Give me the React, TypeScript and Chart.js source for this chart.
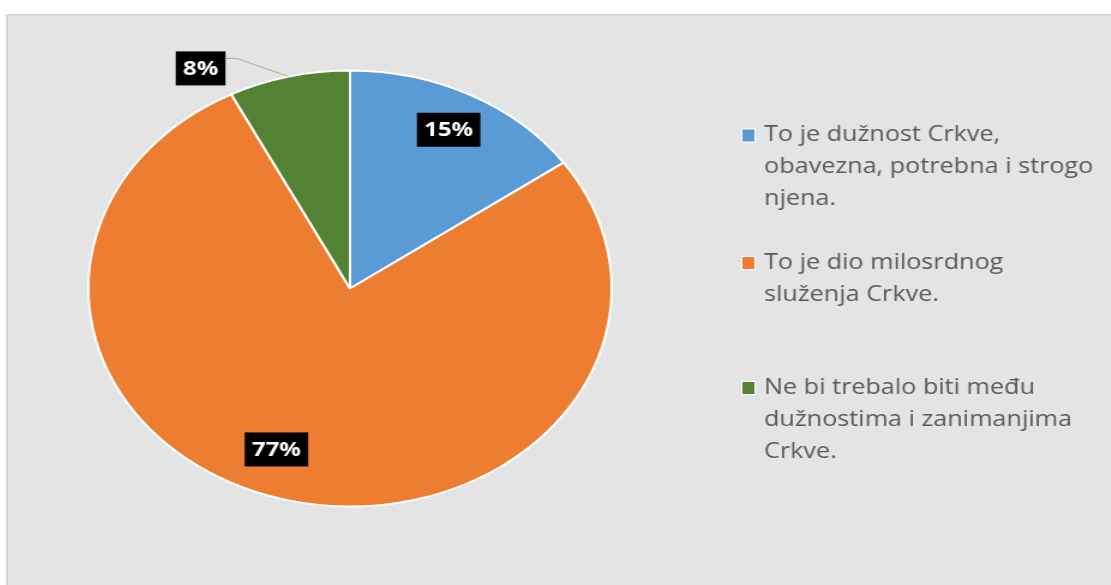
import React, { useEffect, useRef } from "react";
import { Chart, registerables } from "chart.js";

Chart.register(...registerables);

// ---- data ----
const categories: string[][] = [
  ["To je dužnost Crkve,", "obavezna, potrebna i strogo", "njena."],
  ["To je dio milosrdnog", "služenja Crkve."],
  ["Ne bi trebalo biti među", "dužnostima i zanimanjima", "Crkve."],
];
const shares = [15.2, 77.3, 7.5];
const sliceColors = ["#5b9bd5", "#ed7d31", "#548235"];

// ---- layout (not data) ----
const STRETCH = 1.2;
const CW = 919;
const CH = 569;
const labelRadius = [0.82, 0.79, 1.16];
const labelAngleOffset = [0, 7, -16];
const legendFirstLineY = [119.5, 247, 372];
const legendLineH = 32;

const labelPlugin = {
  id: "pctLabels",
  afterDatasetsDraw(chart: any) {
    const ctx = chart.ctx;
    const meta = chart.getDatasetMeta(0);
    const total = shares.reduce((a, b) => a + b, 0);
    ctx.save();
    ctx.font = 'bold 20px "Open Sans"';
    meta.data.forEach((arc: any, i: number) => {
      const p = arc.getProps(["x", "y", "startAngle", "endAngle", "outerRadius"], true);
      const baseMid = (p.startAngle + p.endAngle) / 2;
      const mid = baseMid + (labelAngleOffset[i] * Math.PI) / 180;
      const r = p.outerRadius * labelRadius[i];
      const cx = p.x + Math.cos(mid) * r;
      const cy = p.y + Math.sin(mid) * r;
      const txt = Math.round((shares[i] / total) * 100) + "%";
      const tw = ctx.measureText(txt).width;
      const bw = tw + 12;
      const bh = 34;
      if (labelRadius[i] > 1) {
        const ex = p.x + Math.cos(baseMid) * p.outerRadius;
        const ey = p.y + Math.sin(baseMid) * p.outerRadius;
        const rx = cx + bw / 2;
        const ly = cy - 10;
        ctx.strokeStyle = "#a6a6a6";
        ctx.lineWidth = 1;
        ctx.beginPath();
        ctx.moveTo(ex, ey);
        ctx.lineTo(rx + 9, ly);
        ctx.lineTo(rx, ly);
        ctx.stroke();
      }
      ctx.fillStyle = "#000000";
      ctx.fillRect(cx - bw / 2, cy - bh / 2, bw, bh);
      ctx.fillStyle = "#ffffff";
      ctx.textAlign = "center";
      ctx.textBaseline = "middle";
      ctx.fillText(txt, cx, cy + 1);
    });
    ctx.restore();
  },
};

const legendPlugin = {
  id: "sideLegend",
  afterDraw(chart: any) {
    const ctx = chart.ctx;
    const labels = chart.data.labels as string[][];
    const colors = chart.data.datasets[0].backgroundColor as string[];
    ctx.save();
    ctx.font = '21px "Open Sans"';
    ctx.textAlign = "left";
    ctx.textBaseline = "middle";
    labels.forEach((lines, i) => {
      const y0 = legendFirstLineY[i];
      ctx.fillStyle = "#ffffff";
      ctx.fillRect(611, y0 - 7, 12, 14);
      ctx.fillStyle = colors[i];
      ctx.fillRect(612, y0 - 6, 10, 12);
      ctx.fillStyle = "#595959";
      lines.forEach((ln, j) => {
        ctx.fillText(ln, 630, y0 + j * legendLineH);
      });
    });
    ctx.restore();
  },
};

export default function App() {
  const ref = useRef<HTMLCanvasElement | null>(null);
  useEffect(() => {
    if (!ref.current) return;
    const chart = new Chart(ref.current, {
      type: "pie",
      data: {
        labels: categories,
        datasets: [
          {
            data: shares,
            backgroundColor: sliceColors,
            borderColor: "#ffffff",
            borderWidth: 2,
          },
        ],
      },
      options: {
        responsive: false,
        animation: false,
        devicePixelRatio: 1,
        layout: { padding: { left: 66, right: 415, top: 53.5, bottom: 77.5 } },
        plugins: {
          legend: { display: false },
          tooltip: { enabled: false },
        },
      },
      plugins: [labelPlugin, legendPlugin],
    });
    return () => chart.destroy();
  }, []);

  return (
    <div>
      <div
        style={{
          position: "fixed",
          left: 6,
          top: 14,
          width: 1105,
          height: 571,
          background: "#e4e4e4",
          borderLeft: "2px solid #d6d6d6",
          borderTop: "2px solid #d6d6d6",
          boxSizing: "border-box",
        }}
      />
      <div
        style={{
          position: "fixed",
          left: 8,
          top: 16,
          width: CW,
          height: CH,
          transform: `scaleX(${STRETCH})`,
          transformOrigin: "0 0",
        }}
      >
        <canvas ref={ref} width={CW} height={CH} style={{ width: CW, height: CH, display: "block" }} />
      </div>
    </div>
  );
}
